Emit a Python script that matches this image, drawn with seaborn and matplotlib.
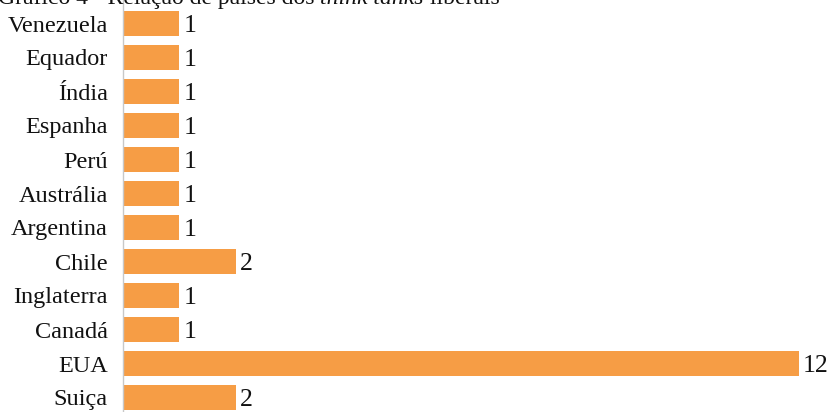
import matplotlib
matplotlib.use("Agg")
import matplotlib.pyplot as plt
import seaborn as sns
import pandas as pd

countries = ["Venezuela", "Equador", "Índia", "Espanha", "Perú", "Austrália",
             "Argentina", "Chile", "Inglaterra", "Canadá", "EUA", "Suiça"]
counts = [1, 1, 1, 1, 1, 1, 1, 2, 1, 1, 12, 2]

df = pd.DataFrame({"pais": countries, "n": counts})

sns.set_style("white")
plt.rcParams["font.family"] = ["Liberation Serif", "DejaVu Serif"]

W, H = 830, 412
fig = plt.figure(figsize=(W / 100, H / 100), dpi=100)
ax = fig.add_axes([123 / W, 0, (799 - 123) / W, 1])

bar_color = "#F69D45"
sns.barplot(data=df, x="n", y="pais", orient="h", color=bar_color,
            width=0.72, saturation=1, linewidth=0, ax=ax)

ax.set_xlim(0, 12)
# first bar centre ~23.5 px from top, bars 34 px apart
ax.set_ylim((H - 23.5) / 34.0, -23.5 / 34.0)

for i, v in enumerate(counts):
    ax.text(v + 0.07, i, f"{v}", va="center_baseline", ha="left", fontsize=18.5,
            color="#111111")

ax.set_xlabel("")
ax.set_ylabel("")
ax.set_xticks([])
ax.tick_params(axis="y", length=0, pad=11, labelsize=17.5, labelcolor="#111111")
for lbl in ax.get_yticklabels():
    lbl.set_verticalalignment("center_baseline")
for s in ["top", "right", "bottom"]:
    ax.spines[s].set_visible(False)
ax.spines["left"].set_color("#c8c8c8")
ax.spines["left"].set_linewidth(1.0)

# title line, partly above the top edge
parts = [("Gráfico 4 - Relação de países dos ", "normal"),
         ("think tanks", "italic"),
         (" liberais", "normal")]
fig.canvas.draw()
renderer = fig.canvas.get_renderer()
x = -2 / W
for txt, style in parts:
    t = fig.text(x, 1 - 4 / H, txt, fontsize=17, style=style, va="baseline",
                 ha="left", color="#111111")
    bb = t.get_window_extent(renderer=renderer)
    x += bb.width / W

fig.savefig("out.png", dpi=100)
